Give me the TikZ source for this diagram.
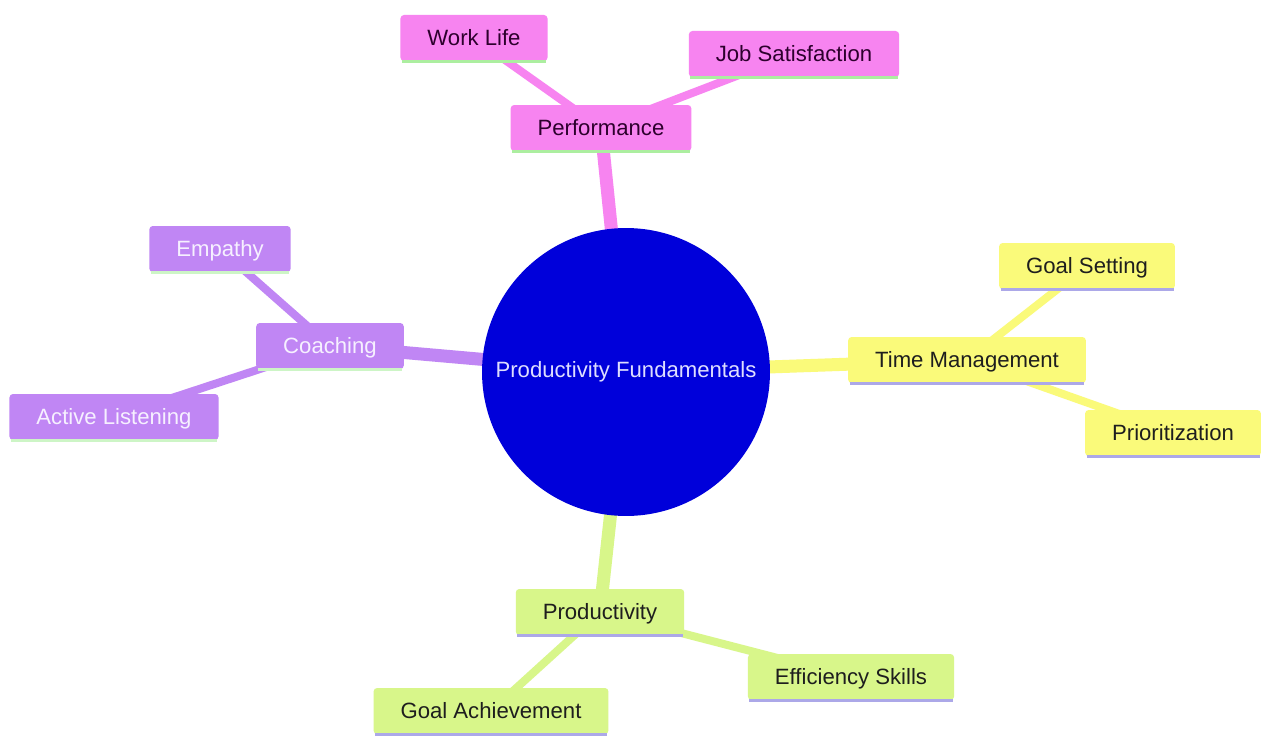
\documentclass[tikz,border=0pt]{standalone}
\usepackage{fontspec}
\setmainfont{Liberation Sans}
\usetikzlibrary{backgrounds}
\definecolor{rootblue}{RGB}{0,0,218}
\definecolor{rootink}{RGB}{222,222,255}
\definecolor{pinkbox}{RGB}{247,132,240}
\definecolor{purplebox}{RGB}{192,134,244}
\definecolor{yellowbox}{RGB}{250,250,122}
\definecolor{greenbox}{RGB}{216,246,138}
\definecolor{mint}{RGB}{172,238,160}
\definecolor{lavender}{RGB}{172,168,232}
\definecolor{plumink}{RGB}{45,0,45}
\definecolor{paleink}{RGB}{246,240,255}
\definecolor{darkink}{RGB}{30,30,30}

\begin{document}
\begin{tikzpicture}[x=0.02cm,y=-0.02cm]
	\tikzstyle{topic} = [rectangle, rounded corners=2pt, inner xsep=0.54cm, minimum height=0.92cm,
		text height=10.2pt, text depth=1.4pt, font=\fontsize{12.6}{15}\selectfont]
	\tikzstyle{trunk} = [line width=0.26cm]
	\tikzstyle{twig} = [line width=0.16cm]
	\tikzstyle{underline} = [line width=0.06cm]
	\useasboundingbox (0,0) rectangle (1263,736);
		\node[circle, fill=rootblue, text=rootink, minimum size=5.76cm, inner sep=0pt,
			font=\fontsize{12.6}{15}\selectfont] (root) at (626,372) {Productivity Fundamentals};
		% performance branch
		\node[topic, fill=pinkbox, text=plumink] (perf) at (601,128) {Performance};
		\node[topic, fill=pinkbox, text=plumink] (work) at (474,38) {Work Life};
		\node[topic, fill=pinkbox, text=plumink] (job) at (794,54) {Job Satisfaction};
		% time management branch
		\node[topic, fill=yellowbox, text=darkink] (time) at (967,360) {Time Management};
		\node[topic, fill=yellowbox, text=darkink] (gset) at (1087,266) {Goal Setting};
		\node[topic, fill=yellowbox, text=darkink] (prio) at (1173,433) {Prioritization};
		% coaching branch
		\node[topic, fill=purplebox, text=paleink] (coach) at (330,346) {Coaching};
		\node[topic, fill=purplebox, text=paleink] (emp) at (220,249) {Empathy};
		\node[topic, fill=purplebox, text=paleink] (listen) at (114,417) {Active Listening};
		% productivity branch
		\node[topic, fill=greenbox, text=darkink] (prod) at (600,612) {Productivity};
		\node[topic, fill=greenbox, text=darkink] (eff) at (851,677) {Efficiency Skills};
		\node[topic, fill=greenbox, text=darkink] (gach) at (491,711) {Goal Achievement};
	\begin{pgfonlayer}{background}
		\fill[white] (0,0) rectangle (1263,736);
		\draw[trunk, pinkbox] (root.center) -- (perf.center);
		\draw[twig, pinkbox] (perf.center) -- (work.center);
		\draw[twig, pinkbox] (perf.center) -- (job.center);
		\draw[trunk, yellowbox] (root.center) -- (time.center);
		\draw[twig, yellowbox] (time.center) -- (gset.center);
		\draw[twig, yellowbox] (time.center) -- (prio.center);
		\draw[trunk, purplebox] (root.center) -- (coach.center);
		\draw[twig, purplebox] (coach.center) -- (emp.center);
		\draw[twig, purplebox] (coach.center) -- (listen.center);
		\draw[trunk, greenbox] (root.center) -- (prod.center);
		\draw[twig, greenbox] (prod.center) -- (eff.center);
		\draw[twig, greenbox] (prod.center) -- (gach.center);
	\end{pgfonlayer}
	\foreach \n/\c in {perf/mint, work/mint, job/mint, coach/mint!60, emp/mint!60, listen/mint!60,
			time/lavender, gset/lavender, prio/lavender, prod/lavender, eff/lavender, gach/lavender}
		\draw[underline, \c] ([xshift=1pt]\n.south west) -- ([xshift=-1pt]\n.south east);
\end{tikzpicture}
\end{document}
